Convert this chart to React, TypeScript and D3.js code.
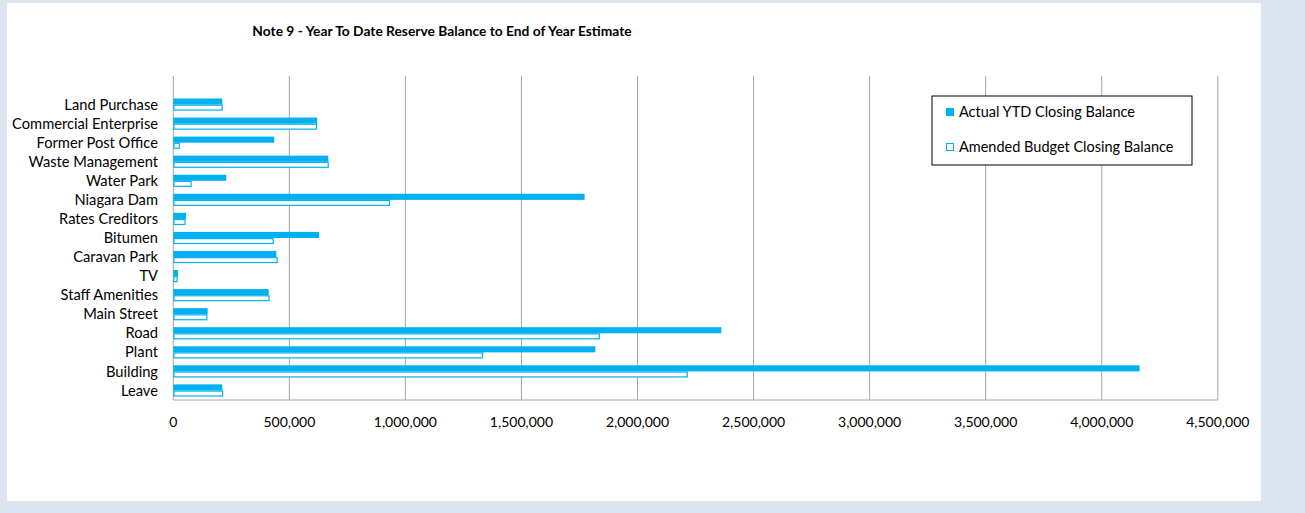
import React from "react";
import * as d3 from "d3";

const categories = [
  "Land Purchase",
  "Commercial Enterprise",
  "Former Post Office",
  "Waste Management",
  "Water Park",
  "Niagara Dam",
  "Rates Creditors",
  "Bitumen",
  "Caravan Park",
  "TV",
  "Staff Amenities",
  "Main Street",
  "Road",
  "Plant",
  "Building",
  "Leave",
];
const actualYTD = [211000, 620000, 435000, 668000, 228000, 1772000, 55000, 628000, 444000, 20000, 411000, 148000, 2361000, 1818000, 4163000, 211000];
const amendedBudget = [213000, 620000, 29000, 670000, 79000, 934000, 53000, 433000, 450000, 19000, 415000, 147000, 1838000, 1335000, 2217000, 215000];
const xTicks = [0, 500000, 1000000, 1500000, 2000000, 2500000, 3000000, 3500000, 4000000, 4500000];
const seriesNames = ["Actual YTD Closing Balance", "Amended Budget Closing Balance"];
const title = "Note 9 - Year To Date Reserve Balance to End of Year Estimate";

const W = 1305;
const H = 513;
const BLUE = "#00b0f0";
const FONT = "Lato, 'Open Sans', sans-serif";

export default function App() {
  const left = 173.3;
  const right = 1217.8;
  const top = 76;
  const bottom = 400;
  const x = d3.scaleLinear().domain([0, 4500000]).range([left, right]);
  // one blank category slot at top, as in the original
  const domain = ["__blank__", ...categories];
  const y = d3.scaleBand().domain(domain).range([top, bottom]).paddingInner(0).paddingOuter(0);
  const bw = y.bandwidth();
  const barH = bw * 0.32;
  const fmt = d3.format(",");

  return (
    <svg
      width={W}
      height={H}
      style={{ position: "fixed", left: 0, top: 0, display: "block" }}
      fontFamily={FONT}
    >
      <rect x={0} y={0} width={W} height={H} fill="#dde6f0" />
      <rect x={7} y={3} width={1254} height={498} fill="#ffffff" />
      <text x={442} y={36} textAnchor="middle" fontSize={13.8} fontWeight="bold" fill="#000">
        {title}
      </text>
      {xTicks.map((t) => (
        <g key={t}>
          <line x1={x(t)} x2={x(t)} y1={top} y2={bottom} stroke="#a6a6a6" strokeWidth={1} />
          <text x={x(t)} y={427} textAnchor="middle" fontSize={14} fill="#000">
            {fmt(t)}
          </text>
        </g>
      ))}
      <line x1={left} x2={right} y1={bottom} y2={bottom} stroke="#a6a6a6" strokeWidth={1} />
      {categories.map((c, i) => {
        const cy = (y(c) as number) + bw / 2;
        return (
          <g key={c}>
            <text x={158} y={cy} dy="0.35em" textAnchor="end" fontSize={14.7} fill="#000">
              {c}
            </text>
            <rect x={x(0)} y={cy - barH} width={x(actualYTD[i]) - x(0)} height={barH} fill={BLUE} />
            <rect
              x={x(0) + 0.6}
              y={cy + 0.6}
              width={Math.max(0, x(amendedBudget[i]) - x(0) - 1.2)}
              height={barH - 1.2}
              fill="#fff"
              stroke={BLUE}
              strokeWidth={1.2}
            />
          </g>
        );
      })}
      <rect x={932} y={96} width={260} height={69} fill="#fff" stroke="#000" strokeWidth={1} />
      <rect x={946} y={108} width={8} height={8} fill={BLUE} />
      <text x={959} y={112} dy="0.35em" fontSize={14.5} fill="#000">
        {seriesNames[0]}
      </text>
      <rect x={946.5} y={143.5} width={7} height={7} fill="#fff" stroke={BLUE} strokeWidth={1} />
      <text x={959} y={147} dy="0.35em" fontSize={14.5} fill="#000">
        {seriesNames[1]}
      </text>
    </svg>
  );
}
